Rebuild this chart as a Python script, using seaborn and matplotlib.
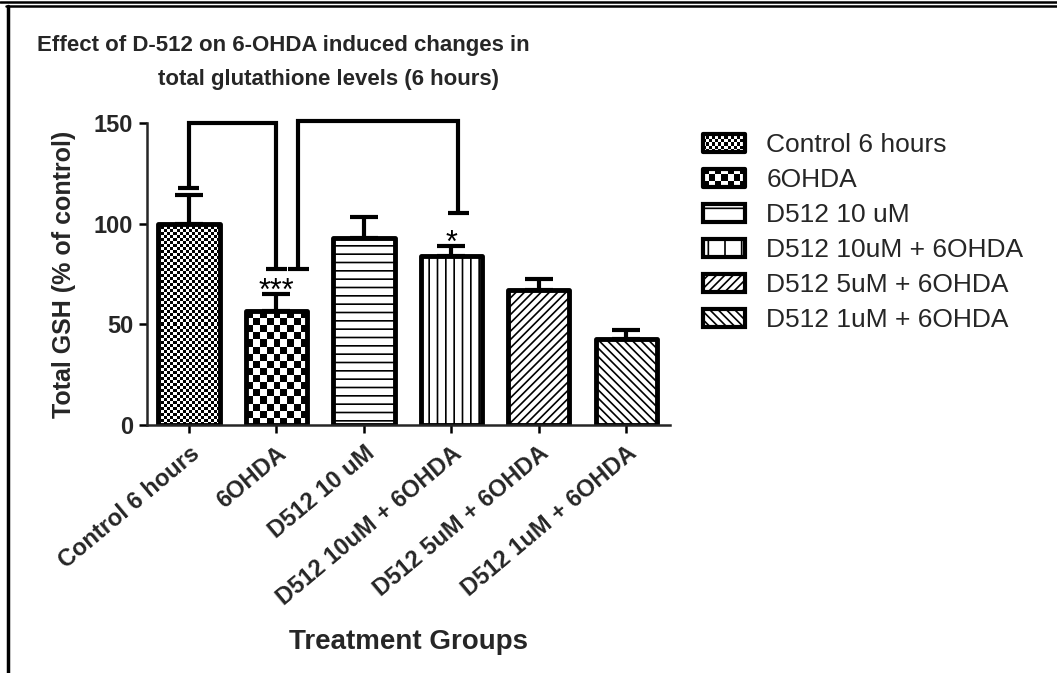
import numpy as np
import pandas as pd
import matplotlib
matplotlib.use('Agg')
import matplotlib.pyplot as plt
import seaborn as sns
from matplotlib.patches import Patch, Rectangle
from matplotlib.lines import Line2D
from matplotlib.legend_handler import HandlerBase
from matplotlib.image import BboxImage
from matplotlib.transforms import Bbox, TransformedBbox

# ---- data ----
groups = ['Control 6 hours', '6OHDA', 'D512 10 uM', 'D512 10uM + 6OHDA',
          'D512 5uM + 6OHDA', 'D512 1uM + 6OHDA']
gsh_mean = [100.0, 56.6, 92.9, 84.0, 67.0, 42.7]
gsh_sem = [14.0, 8.5, 10.5, 5.0, 5.5, 4.5]
stars = ['', '***', '', '*', '', '']

# significance brackets: (left x, right x, top y, left foot y, right foot y)
brackets = [(0.0, 1.0, 150.0, 117.7, 77.5),
            (1.25, 3.08, 151.0, 77.5, 105.5)]

# fill patterns (checker = cell size in px, otherwise hatch string)
bar_fill = [('checker', 3), ('checker', 7), ('hatch', '--'), ('hatch', '||'),
            ('hatch', '////'), ('hatch', '\\\\\\\\')]
legend_fill = [('checker', 3), ('checker', 6), ('hatch', '-'), ('hatch', '|'),
               ('hatch', '////'), ('hatch', '\\\\\\\\')]

df = pd.DataFrame({'group': groups, 'value': gsh_mean})

sns.set_theme(style='ticks')
plt.rcParams['font.family'] = ['Liberation Sans', 'DejaVu Sans']
plt.rcParams['hatch.linewidth'] = 1.2
plt.rcParams['hatch.color'] = 'black'


def checker(nx, ny):
    a = (np.indices((ny, nx)).sum(axis=0) % 2).astype(float)
    return np.dstack([a, a, a])


class CheckerHandler(HandlerBase):
    def __init__(self, cell):
        super().__init__()
        self.cell = cell

    def create_artists(self, legend, orig_handle, xdescent, ydescent,
                       width, height, fontsize, trans):
        bb = Bbox.from_bounds(-xdescent, -ydescent, width, height)
        img = BboxImage(TransformedBbox(bb, trans), interpolation='nearest')
        nx = max(2, int(round(width * 100 / 72 / self.cell)))
        ny = max(2, int(round(height * 100 / 72 / self.cell)))
        img.set_data(checker(nx, ny))
        rect = Rectangle((-xdescent, -ydescent), width, height,
                         facecolor='none', edgecolor='black', lw=3,
                         joinstyle='round', transform=trans)
        return [img, rect]


W, H = 1057, 673
fig = plt.figure(figsize=(W / 100, H / 100), dpi=100)
ax = fig.add_axes([147 / W, 1 - 425 / H, 523 / W, 302 / H])

sns.barplot(data=df, x='group', y='value', color='white', saturation=1,
            edgecolor='black', linewidth=3.5, width=0.7, errorbar=None, ax=ax)

ax.set_xlim(-0.48, 5.5)
ax.set_ylim(0, 150)

# pattern fills
for patch, (kind, spec) in zip(ax.patches, bar_fill):
    patch.set_joinstyle('round')
    patch.set_zorder(2)
    if kind == 'hatch':
        patch.set_hatch(spec)
    else:
        patch.set_facecolor('none')
        x0, y0 = patch.get_x(), patch.get_y()
        x1, y1 = x0 + patch.get_width(), y0 + patch.get_height()
        p0 = ax.transData.transform((x0, y0))
        p1 = ax.transData.transform((x1, y1))
        nx = max(2, int(round((p1[0] - p0[0]) / spec)))
        ny = max(2, int(round((p1[1] - p0[1]) / spec)))
        img = ax.imshow(checker(nx, ny), extent=(x0, x1, y0, y1),
                        aspect='auto', interpolation='nearest', zorder=1)
        img.set_clip_path(patch)

ax.set_xlim(-0.48, 5.5)
ax.set_ylim(0, 150)

# upper error bars
xs = np.arange(len(groups))
ax.errorbar(xs, gsh_mean, yerr=[np.zeros(len(groups)), gsh_sem], fmt='none',
            ecolor='black', elinewidth=3, capsize=10, capthick=3, zorder=3)

# significance stars
for x, m, e, s in zip(xs, gsh_mean, gsh_sem, stars):
    if s:
        ax.text(x, m + e - 3, s, ha='center', va='baseline', fontsize=22,
                color='black')

# brackets
for xl, xr, top, yl, yr in brackets:
    ax.plot([xl, xl, xr, xr], [yl, top, top, yr], color='black', lw=3,
            clip_on=False, solid_joinstyle='miter', zorder=4)
    ax.hlines([yl, yr], [xl - 0.12, xr - 0.12], [xl + 0.12, xr + 0.12],
              color='black', lw=3, clip_on=False, zorder=4)

# axes styling
sns.despine(ax=ax)
for sp in ['left', 'bottom']:
    ax.spines[sp].set_linewidth(1.8)
ax.set_yticks([0, 50, 100, 150])
ax.tick_params(axis='y', length=6, width=1.8, color='black',
               labelsize=17, pad=4)
ax.tick_params(axis='x', length=6, width=1.8, color='black', pad=6)
for lab in ax.get_yticklabels():
    lab.set_fontweight('bold')
ax.set_xticks(xs)
ax.set_xticklabels(groups, rotation=40, ha='right', rotation_mode='anchor',
                   fontweight='bold', fontsize=17)
ax.set_xlabel('Treatment Groups', fontsize=20, fontweight='bold', labelpad=0)
ax.xaxis.set_label_coords(0.5, -0.675)
ax.set_ylabel('Total GSH (% of control)', fontsize=18, fontweight='bold')
ax.yaxis.set_label_coords(-0.136, 0.5)

# title (two lines, as in the original)
fig.text(37 / W, 1 - 45 / H, 'Effect of D-512 on 6-OHDA induced changes in',
         fontsize=16, fontweight='bold', ha='left', va='center')
fig.text(158 / W, 1 - 80 / H, 'total glutathione levels (6 hours)',
         fontsize=16, fontweight='bold', ha='left', va='center')

# legend
handles, hmap = [], {}
for kind, spec in legend_fill:
    if kind == 'hatch':
        h = Patch(facecolor='white', edgecolor='black', lw=3, hatch=spec,
                  joinstyle='round')
    else:
        h = Patch(facecolor='white', edgecolor='black', lw=3)
        hmap[h] = CheckerHandler(spec)
    handles.append(h)
ax.legend(handles, groups, handler_map=hmap, loc='upper left',
          bbox_to_anchor=(703 / W, 1 - 133 / H), bbox_transform=fig.transFigure,
          frameon=False, fontsize=19, handlelength=1.6, handleheight=0.7,
          handletextpad=0.8, labelspacing=0.42, borderpad=0, borderaxespad=0)

# page border lines
fig.add_artist(Line2D([0, 1], [1 - 1.5 / H, 1 - 1.5 / H], color='black', lw=1.8))
fig.add_artist(Line2D([6 / W, 1], [1 - 5.5 / H, 1 - 5.5 / H], color='black', lw=1.8))
fig.add_artist(Line2D([7.5 / W, 7.5 / W], [0, 1 - 5.5 / H], color='black', lw=2.5))

fig.savefig('out.png', dpi=100, facecolor='white')
